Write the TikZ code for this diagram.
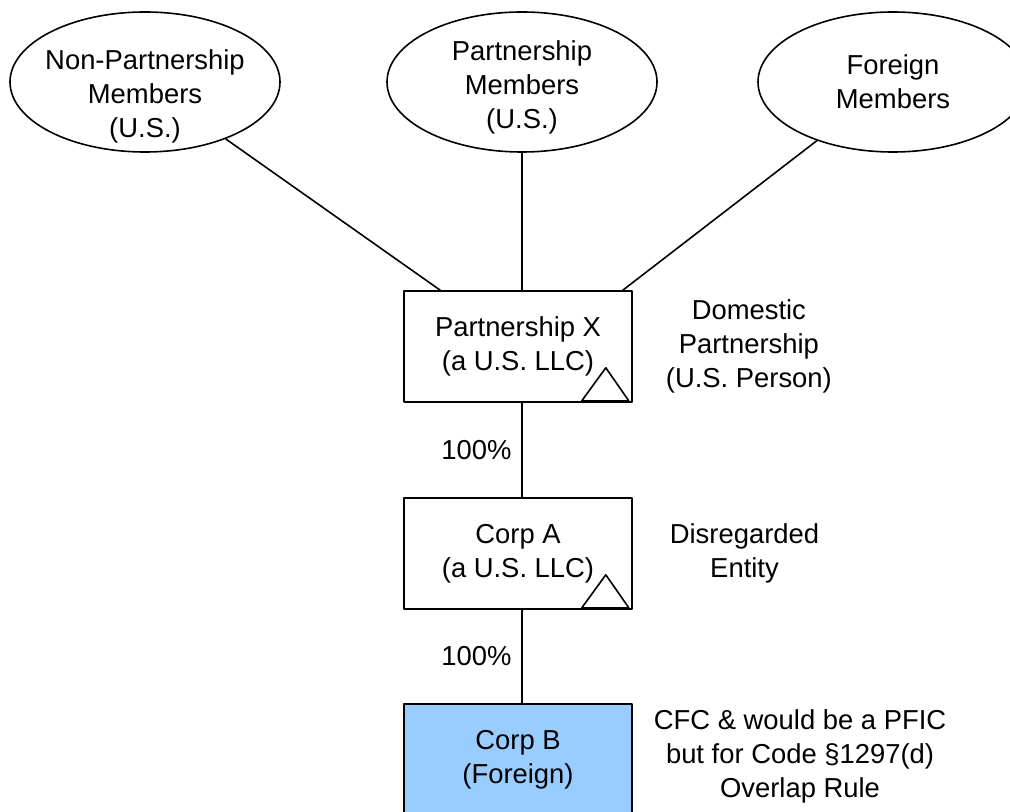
\documentclass[tikz,border=0pt]{standalone}
\usepackage{fontspec}
\setmainfont{Liberation Sans}
\usetikzlibrary{shapes.geometric,positioning}
\definecolor{corpblue}{HTML}{99CCFF}
\begin{document}
\begin{tikzpicture}[x=0.5pt,y=-0.5pt, line join=round, font=\fontsize{13.7}{17}\selectfont,
    member/.style={draw, ellipse, line width=0.8pt, minimum width=135pt, minimum height=70pt, inner sep=0pt},
    memtext/.style={align=center, inner sep=0pt},
    entity/.style={draw, rectangle, line width=0.8pt, minimum width=114pt, minimum height=55.5pt, align=center},
    remark/.style={align=center},
    link/.style={line width=0.8pt}]
    \useasboundingbox (0,0) rectangle (1010,812);
    % members
    \node[member, label={[memtext, yshift=-7pt]center:Non-Partnership\\Members\\(U.S.)}] (nonp) at (145,82) {};
    \node[member, label={[memtext, yshift=-2.5pt]center:Partnership\\Members\\(U.S.)}] (pmem) at (522,82) {};
    \node[member, label={[memtext]center:Foreign\\Members}] (fmem) at (893,82) {};
    % entities
    \node[entity] (px) at (518,346.5) {Partnership X\\(a U.S. LLC)};
    \node[entity] (ca) at (518,553.5) {Corp A\\(a U.S. LLC)};
    \node[entity, fill=corpblue] (cb) at (518,759.5) {Corp B\\(Foreign)};
    \node[remark, right=13pt of px] (pxnote) {Domestic\\Partnership\\(U.S. Person)};
    \node[remark, right=15pt of ca] (canote) {Disregarded\\Entity};
    \node[remark, right=7pt of cb, yshift=1.5pt] (cbnote) {CFC \& would be a PFIC\\but for Code §1297(d)\\Overlap Rule};
    % connectors
    \coordinate (pxleft) at ([xshift=18.5pt]px.north west);
    \coordinate (pxright) at ([xshift=-5pt]px.north east);
    \draw[link] (nonp) -- (pxleft);
    \draw[link] (fmem) -- (pxright);
    \draw[link] (pmem.south) -- (pmem.south |- px.north);
    \draw[link] (pmem.south |- px.south) -- node[left, xshift=-1.5pt]{100\%} (pmem.south |- ca.north);
    \draw[link] (pmem.south |- ca.south) -- node[left, xshift=-1.5pt]{100\%} (pmem.south |- cb.north);
    % triangles
    \foreach \b in {px,ca}
      \draw[link] ([xshift=-25.5pt,yshift=1pt]\b.south east) -- ([xshift=-13.5pt,yshift=17.5pt]\b.south east)
        -- ([xshift=-2pt,yshift=1pt]\b.south east) -- cycle;
\end{tikzpicture}
\end{document}
